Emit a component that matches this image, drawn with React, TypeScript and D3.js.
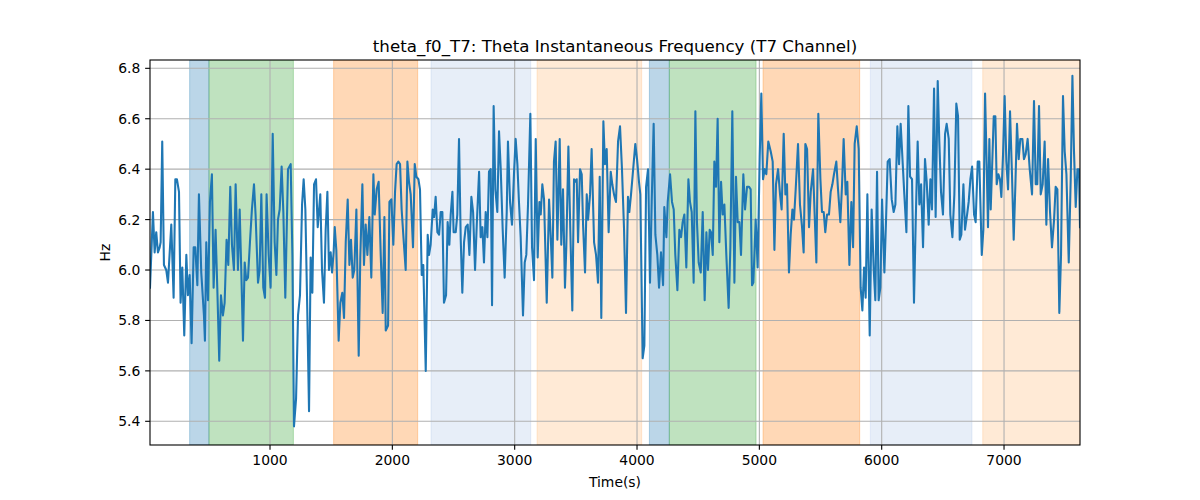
import React from 'react';
import * as d3 from 'd3';

const title = 'theta_f0_T7: Theta Instantaneous Frequency (T7 Channel)';
const xLabel = 'Time(s)';
const yLabel = 'Hz';
const xTicks = [1000, 2000, 3000, 4000, 5000, 6000, 7000];
const yTicks = [5.4, 5.6, 5.8, 6.0, 6.2, 6.4, 6.6, 6.8];
const yDomain = [5.306, 6.833];

// shaded epochs
const bandStarts = [343, 501, 1520, 2316, 3183, 4101, 4264, 5030, 5907, 6826];
const bandEnds = [501, 1191, 2207, 3131, 4038, 4264, 4973, 5820, 6738, 7621];
const bandKinds = ['blue', 'green', 'orange', 'lightblue', 'lightorange', 'blue', 'green', 'orange', 'lightblue', 'lightorange'];
const kindColors: Record<string, string> = {
  blue: '#1f77b4',
  green: '#2ca02c',
  orange: '#ff7f0e',
  lightblue: '#aec7e8',
  lightorange: '#ffbb78',
};

// [time (s), frequency (Hz)]
const thetaF0: [number, number][] = [
  [19,5.93],[43,6.23],[57,6.07],[70,6.15],[84,6.07],[98,6.09],[106,6.11],[119,6.51],[133,6.02],[152,6.00],
  [166,5.95],[193,6.18],[212,5.89],[226,6.36],[239,6.36],[256,6.31],[269,5.87],[283,6.01],[299,5.74],[316,6.06],
  [329,5.90],[343,5.98],[359,5.71],[376,6.09],[389,6.09],[406,5.94],[419,6.30],[438,5.99],[460,5.82],[468,5.72],
  [479,6.11],[493,5.88],[509,6.27],[525,6.38],[539,5.93],[555,6.16],[569,5.93],[585,5.64],[599,5.90],[615,5.82],
  [629,5.87],[645,6.12],[659,6.02],[675,6.33],[689,6.10],[705,6.00],[719,6.34],[738,6.00],[752,6.24],[765,6.00],
  [779,5.72],[793,6.03],[806,5.96],[820,5.97],[836,6.11],[852,6.24],[869,6.34],[882,6.22],[902,5.95],[915,6.00],
  [929,6.30],[945,5.93],[959,5.89],[972,6.30],[989,6.06],
  [1005,5.93],[1022,6.54],[1038,6.11],[1052,5.98],[1065,6.20],[1079,6.24],[1095,6.41],[1109,6.23],[1125,5.89],[1147,6.40],
  [1169,6.42],[1183,6.06],[1196,5.38],[1213,5.49],[1229,5.82],[1245,5.90],[1262,6.26],[1275,6.36],[1289,6.24],[1305,5.83],
  [1319,5.44],[1332,6.05],[1346,5.91],[1360,6.34],[1376,6.36],[1390,6.17],[1398,6.22],[1411,6.30],[1425,6.00],[1441,5.87],
  [1455,6.16],[1469,6.31],[1482,6.00],[1496,6.07],[1507,5.99],[1520,6.07],[1529,6.17],[1542,6.08],[1561,5.72],[1575,5.87],
  [1591,5.91],[1605,5.81],[1619,6.11],[1635,6.28],[1649,6.02],[1662,6.12],[1676,5.97],[1689,6.00],[1706,6.24],[1725,5.66],
  [1738,6.05],[1755,6.34],[1768,6.02],[1782,6.18],[1796,6.06],[1812,6.21],[1828,5.97],[1845,6.38],[1856,6.22],[1872,6.32],
  [1888,6.35],[1905,6.06],[1921,5.83],[1935,6.21],[1946,5.76],[1965,5.78],[1976,6.27],
  [1992,6.28],[2008,6.10],[2022,6.31],[2035,6.42],[2049,6.43],[2063,6.42],[2076,6.24],[2095,6.10],[2109,6.00],[2123,6.43],
  [2136,6.35],[2150,6.30],[2169,6.09],[2183,6.42],[2196,6.37],[2213,6.36],[2226,6.32],[2240,5.98],[2253,6.02],[2273,5.60],
  [2289,6.14],[2300,6.06],[2313,6.10],[2330,6.24],[2341,6.21],[2354,6.29],[2368,6.15],[2382,6.14],[2395,6.23],[2409,6.23],
  [2422,5.87],[2439,5.90],[2452,6.19],[2466,6.10],[2477,6.22],[2491,6.31],[2501,6.15],[2518,6.15],[2531,6.22],[2545,6.52],
  [2559,6.12],[2572,5.91],[2586,6.11],[2600,6.17],[2616,6.18],[2630,6.06],[2646,6.29],[2660,6.23],[2676,6.00],[2690,6.18],
  [2709,6.39],[2722,6.13],[2736,6.17],[2749,6.03],[2763,6.23],[2777,6.13],[2790,6.39],[2804,6.40],[2815,5.86],[2828,6.65],
  [2842,6.32],[2858,6.23],[2872,6.55],[2886,6.40],[2902,6.16],[2918,5.97],[2935,6.23],
  [2945,6.51],[2962,6.27],[2978,6.18],[2995,6.39],[3008,6.52],[3022,6.42],[3035,6.27],[3049,6.13],[3068,5.82],[3082,6.03],
  [3095,6.06],[3109,6.26],[3128,6.62],[3142,6.09],[3158,5.96],[3172,6.52],[3188,6.05],[3202,6.27],[3213,6.22],[3226,6.34],
  [3240,6.28],[3262,5.87],[3281,6.28],[3294,6.14],[3308,5.97],[3321,6.43],[3335,6.51],[3349,6.12],[3368,6.52],[3381,6.10],
  [3395,6.32],[3411,5.93],[3422,6.09],[3439,6.49],[3458,6.09],[3471,5.84],[3485,6.36],[3496,6.35],[3507,6.36],[3518,6.11],
  [3534,6.40],[3548,6.38],[3559,6.18],[3575,5.99],[3589,6.30],[3600,6.20],[3616,6.30],[3629,6.48],[3649,6.11],[3665,6.06],
  [3681,5.95],[3695,6.37],[3708,5.81],[3725,6.59],[3738,6.42],[3752,6.48],[3768,6.15],[3785,6.39],[3798,6.34],[3812,6.30],
  [3828,6.27],[3845,6.51],[3861,6.57],[3877,6.40],[3894,6.16],[3910,5.83],[3926,6.29],
  [3937,6.23],[3951,6.30],[3965,6.38],[3986,6.50],[4000,6.44],[4016,6.35],[4027,6.30],[4046,5.65],[4060,5.70],[4074,6.33],
  [4090,6.40],[4106,5.95],[4120,6.27],[4136,6.58],[4150,6.14],[4166,6.06],[4180,5.93],[4196,6.07],[4213,5.94],[4223,6.25],
  [4240,6.13],[4251,6.27],[4270,6.38],[4286,6.27],[4300,6.24],[4313,6.06],[4330,5.92],[4346,6.16],[4360,6.13],[4373,6.19],
  [4387,6.22],[4403,6.01],[4420,6.36],[4433,6.27],[4447,6.23],[4463,5.95],[4477,6.63],[4490,6.19],[4504,6.03],[4521,5.99],
  [4537,6.23],[4553,5.88],[4567,6.15],[4580,6.00],[4594,6.16],[4605,6.15],[4619,6.06],[4632,6.43],[4646,6.33],[4659,6.60],
  [4673,6.11],[4687,6.35],[4700,6.22],[4714,6.26],[4730,6.06],[4749,5.85],[4763,6.09],[4779,6.63],[4796,5.95],[4809,6.37],
  [4823,6.19],[4837,6.19],[4850,6.06],[4869,6.38],[4883,6.24],[4899,6.33],[4916,6.33],
  [4929,6.32],[4940,5.94],[4951,5.95],[4970,6.20],[4986,6.01],[5003,6.45],[5016,6.70],[5030,6.36],[5044,6.40],[5057,6.38],
  [5073,6.51],[5093,6.47],[5109,6.43],[5123,6.08],[5136,6.34],[5153,6.40],[5169,6.30],[5182,6.24],[5199,6.54],[5213,6.30],
  [5226,6.34],[5242,5.99],[5256,6.14],[5270,6.24],[5283,6.20],[5297,6.32],[5316,6.50],[5332,6.26],[5349,6.17],[5362,6.07],
  [5376,6.50],[5390,6.48],[5406,6.17],[5420,6.31],[5439,6.40],[5452,6.22],[5466,6.03],[5482,6.62],[5499,6.36],[5512,6.23],
  [5526,6.23],[5539,6.15],[5553,6.22],[5569,6.22],[5583,6.31],[5597,6.34],[5610,6.38],[5629,6.43],[5643,6.32],[5662,6.19],
  [5676,6.34],[5689,6.52],[5706,6.30],[5719,6.35],[5736,6.02],[5752,6.27],[5766,6.09],[5779,6.50],[5796,6.57],[5812,6.48],
  [5828,5.93],[5842,5.84],[5856,6.01],[5869,5.89],[5883,6.30],
  [5902,5.74],[5918,6.24],[5935,6.00],[5948,5.88],[5962,6.39],[5975,5.88],[5989,5.93],[6003,6.28],[6022,5.99],[6035,6.19],
  [6049,6.43],[6065,6.44],[6082,6.28],[6098,6.23],[6112,6.26],[6128,6.57],[6142,6.42],[6155,6.58],[6172,6.42],[6185,6.30],
  [6202,6.15],[6218,6.65],[6232,6.37],[6248,6.36],[6264,5.87],[6278,6.19],[6294,6.51],[6308,6.26],[6322,6.34],[6338,6.09],
  [6354,6.44],[6368,6.35],[6384,6.18],[6398,6.36],[6411,6.24],[6428,6.72],[6441,6.21],[6458,6.75],[6471,6.51],[6485,6.31],
  [6501,6.22],[6518,6.54],[6531,6.58],[6548,6.52],[6561,6.22],[6578,6.13],[6594,6.30],[6610,6.66],[6624,6.61],[6638,6.12],
  [6651,6.14],[6668,6.34],[6681,6.16],[6698,6.22],[6711,6.27],[6725,6.36],[6739,6.41],[6755,6.22],[6768,6.19],[6785,6.43],
  [6798,6.43],[6818,6.06],[6831,6.16],[6845,6.70],[6858,6.42],[6869,6.17],
  [6880,6.52],[6891,6.24],[6902,6.40],[6916,6.61],[6929,6.61],[6940,6.34],[6954,6.38],[6967,6.36],[6978,6.29],[6992,6.46],
  [7005,6.69],[7019,6.43],[7033,6.32],[7049,6.63],[7065,6.38],[7079,6.12],[7093,6.34],[7106,6.58],[7120,6.44],[7133,6.52],
  [7150,6.52],[7163,6.44],[7177,6.46],[7193,6.52],[7210,6.40],[7229,6.30],[7245,6.67],[7259,6.34],[7272,6.34],[7286,6.65],
  [7300,6.30],[7316,6.34],[7332,6.51],[7346,6.18],[7360,6.44],[7376,6.23],[7392,6.09],[7409,6.20],[7422,6.33],[7436,6.32],
  [7452,5.83],[7466,6.06],[7482,6.69],[7496,6.47],[7510,6.38],[7529,6.03],[7545,6.36],[7559,6.77],[7572,6.47],[7586,6.25],
  [7600,6.40],[7613,6.40],[7621,6.17],
];

const W = 1200;
const H = 500;
const L = 150, R = 1080, T = 60, B = 445;
const FONT = 'DejaVu Sans, sans-serif';

export default function App() {
  const x = d3.scaleLinear().domain(d3.extent(thetaF0, (d) => d[0]) as [number, number]).range([L, R]);
  const y = d3.scaleLinear().domain(yDomain).range([B, T]);
  const line = d3.line<[number, number]>().x((d) => x(d[0])).y((d) => y(d[1]));

  return (
    <svg width={W} height={H} style={{ position: 'absolute', left: 0, top: 0, display: 'block', background: '#fff' }}
      fontFamily={FONT}>
      <rect x={0} y={0} width={W} height={H} fill="#fff" />
      <defs>
        <clipPath id="plotclip">
          <rect x={L} y={T} width={R - L} height={B - T} />
        </clipPath>
      </defs>
      <g clipPath="url(#plotclip)">
        {bandStarts.map((s, i) => (
          <rect key={i} x={x(s)} y={T} width={x(bandEnds[i]) - x(s)} height={B - T}
            fill={kindColors[bandKinds[i]]} fillOpacity={0.3}
            stroke={kindColors[bandKinds[i]]} strokeOpacity={0.3} strokeWidth={1} />
        ))}
      </g>
      {/* grid */}
      <g stroke="#b0b0b0" strokeWidth={1.1}>
        {xTicks.map((t) => (
          <line key={'gx' + t} x1={x(t)} x2={x(t)} y1={T} y2={B} />
        ))}
        {yTicks.map((t) => (
          <line key={'gy' + t} x1={L} x2={R} y1={y(t)} y2={y(t)} />
        ))}
      </g>
      <g clipPath="url(#plotclip)">
        <path d={line(thetaF0) || ''} fill="none" stroke="#1f77b4" strokeWidth={2.08} strokeLinejoin="round" strokeLinecap="square" />
      </g>
      {/* spines */}
      <rect x={L} y={T} width={R - L} height={B - T} fill="none" stroke="#000" strokeWidth={1.1} />
      {/* x ticks */}
      {xTicks.map((t) => (
        <g key={'xt' + t}>
          <line x1={x(t)} x2={x(t)} y1={B} y2={B + 4.86} stroke="#000" strokeWidth={1.1} />
          <text x={x(t)} y={B + 19.5} fontSize={13.9} textAnchor="middle" fill="#000">{String(t)}</text>
        </g>
      ))}
      {/* y ticks */}
      {yTicks.map((t) => (
        <g key={'yt' + t}>
          <line x1={L - 4.86} x2={L} y1={y(t)} y2={y(t)} stroke="#000" strokeWidth={1.1} />
          <text x={L - 9.7} y={y(t)} dy="0.36em" fontSize={13.9} textAnchor="end" fill="#000">{t.toFixed(1)}</text>
        </g>
      ))}
      <text x={(L + R) / 2} y={487} fontSize={13.9} textAnchor="middle" fill="#000">{xLabel}</text>
      <text transform={`translate(110, ${(T + B) / 2}) rotate(-90)`} fontSize={13.9} textAnchor="middle" fill="#000">{yLabel}</text>
      <text x={(L + R) / 2} y={52} fontSize={16.67} textAnchor="middle" fill="#000">{title}</text>
    </svg>
  );
}
